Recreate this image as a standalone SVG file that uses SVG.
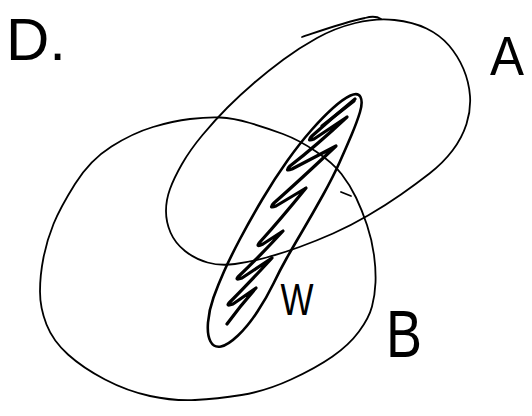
<svg xmlns="http://www.w3.org/2000/svg" width="532" height="416" viewBox="0 0 532 416">
  <style>
    .outline { fill: none; stroke: #000; stroke-width: 1.8; stroke-linecap: round; stroke-linejoin: round; }
    .thick { fill: none; stroke: #000; stroke-width: 2.6; stroke-linecap: round; stroke-linejoin: round; }
    .hatch { fill: none; stroke: #000; stroke-width: 3.2; stroke-linecap: round; stroke-linejoin: round; }
    .lbl { font-family: "Liberation Sans", Arial, sans-serif; fill: #000; }
  </style>
  <rect width="532" height="416" fill="#fff"/>
  <g id="label-D">
    <text class="lbl" x="6" y="60" font-size="60">D.</text>
  </g>
  <g id="node-B">
    <path class="outline" d="M190,119 Q207,117 220,117.5 Q233,118 250,123 Q267,128 283,134 Q299,140 316,151.5 Q333,163 341.5,174 Q350,185 356,197.5 Q362,210 367,225 Q372,240 374,255 Q376,270 375.5,282.5 Q375,295 372,306.5 Q369,318 359,331.5 Q349,345 332.5,356.5 Q316,368 291,379.5 Q266,391 241.5,395 Q217,399 195,400 Q173,401 150,396 Q127,391 105,379.5 Q83,368 68,354.5 Q53,341 46.5,324.5 Q40,308 40,291.5 Q40,275 43.5,257.5 Q47,240 53.5,224 Q60,208 75,184 Q90,160 111.5,146.5 Q133,133 153,127 Q173,121 190,119 Z"/>
    <path class="outline" stroke-width="2.2" d="M341,192 L351,196"/>
    <text class="lbl" x="386" y="357" font-size="66" textLength="36" lengthAdjust="spacingAndGlyphs">B</text>
  </g>
  <g id="node-A">
    <path class="outline" d="M355.5,23 Q376,18 394.5,20 Q413,22 426.5,28.5 Q440,35 449,45.5 Q458,56 463.5,69 Q469,82 470,96 Q471,110 466.5,124 Q462,138 452.5,150.5 Q443,163 429.5,173.5 Q416,184 401,194.5 Q386,205 368,215.5 Q350,226 333,233.5 Q316,241 299.5,247 Q283,253 266.5,257.5 Q250,262 235,264 Q220,266 207.5,262.5 Q195,259 185,251 Q175,243 170.5,232.5 Q166,222 166,211 Q166,200 170,189 Q174,178 182,164 Q190,150 202.5,135 Q215,120 227.5,107.5 Q240,95 254,83 Q268,71 283.5,59.5 Q299,48 317,38 Q335,28 355.5,23 Z"/>
    <path class="outline" d="M302,37 C320,31 345,22 365,18 C372,16 378,17 381,19"/>
    <text class="lbl" x="507" y="75" font-size="56" text-anchor="middle" textLength="34" lengthAdjust="spacingAndGlyphs">A</text>
  </g>
  <g id="node-W">
    <path class="thick" d="M350.5,95.5 Q358,92 360.5,97 Q363,102 360,112 Q357,122 351.5,135 Q346,148 339.5,162.5 Q333,177 323,195 Q313,213 303,230 Q293,247 286.5,258.5 Q280,270 273.5,283.5 Q267,297 257.5,311.5 Q248,326 238,335.5 Q228,345 221,346.5 Q214,348 210.5,341.5 Q207,335 208,322.5 Q209,310 213.5,297.5 Q218,285 224,271.5 Q230,258 240,239 Q250,220 262.5,199 Q275,178 287.5,160.5 Q300,143 311.5,130 Q323,117 333,108 Q343,99 350.5,95.5 Z"/>
    <path class="hatch" d="M355,99 Q333,117 312,136 Q306,142 314,139 L347,117 Q316,146 290,166 Q284,172 292,169 L336,146 Q300,180 274,203 Q268,209 276,206 L306,188 Q280,220 260,242 Q255,248 263,244 L283,231 Q258,258 239,276 Q234,281 242,278 L272,258 Q248,284 230,302 Q225,307 233,304 L256,288 Q240,306 227,324"/>
    <path class="hatch" stroke-width="5" d="M354,101 L322,126"/>
    <text class="lbl" x="297" y="315" font-size="44" text-anchor="middle" textLength="33" lengthAdjust="spacingAndGlyphs">W</text>
  </g>
  <g id="connectors"/>
</svg>
